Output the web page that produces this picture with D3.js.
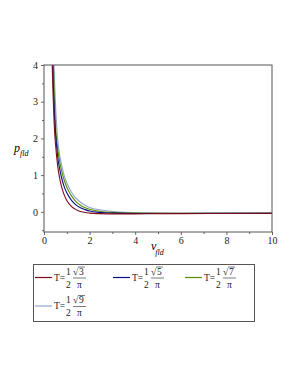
<!DOCTYPE html>
<html lang="en">
<head>
  <script src="https://d3js.org/d3.v7.min.js"></script>
  <style>
    body {
      margin: 0;
      background: white;
    }
  </style>
</head>
<body>
<div id="chart"></div>
<script>
  // values
  var vRed   = [0.34, 0.36, 0.4, 0.45, 0.5, 0.6, 0.7, 0.8, 0.9, 1.0, 1.2, 1.4, 1.6, 1.8, 2.0, 2.5, 3, 4, 5, 6, 8, 10];
  var pRed   = [4.5, 4.0, 3.16, 2.35, 1.88, 1.25, 0.87, 0.62, 0.44, 0.31, 0.15, 0.06, 0.01, -0.02, -0.035, -0.05, -0.055, -0.055, -0.05, -0.048, -0.045, -0.042];
  var vBlue  = [0.36, 0.38, 0.4, 0.45, 0.5, 0.6, 0.7, 0.8, 0.9, 1.0, 1.2, 1.4, 1.6, 1.8, 2.0, 2.5, 3, 4, 5, 6, 8, 10];
  var pBlue  = [4.5, 4.0, 3.6, 2.75, 2.2, 1.5, 1.13, 0.86, 0.66, 0.52, 0.32, 0.19, 0.11, 0.06, 0.02, -0.02, -0.035, -0.045, -0.045, -0.045, -0.043, -0.04];
  var vGreen = [0.39, 0.41, 0.45, 0.5, 0.6, 0.7, 0.8, 0.9, 1.0, 1.2, 1.4, 1.6, 1.8, 2.0, 2.5, 3, 4, 5, 6, 8, 10];
  var pGreen = [4.5, 4.0, 3.2, 2.4, 1.72, 1.33, 1.05, 0.84, 0.67, 0.44, 0.28, 0.18, 0.11, 0.07, 0.01, -0.015, -0.035, -0.04, -0.04, -0.04, -0.038];
  var vLight = [0.42, 0.44, 0.5, 0.6, 0.7, 0.8, 0.9, 1.0, 1.2, 1.4, 1.6, 1.8, 2.0, 2.5, 3, 4, 5, 6, 8, 10];
  var pLight = [4.5, 4.0, 3.0, 1.98, 1.5, 1.2, 0.96, 0.79, 0.54, 0.37, 0.26, 0.18, 0.12, 0.05, 0.01, -0.02, -0.03, -0.035, -0.036, -0.036];

  var seriesRoots = ["3", "5", "7", "9"];
  var seriesColors = ["#7d0a1c", "#06107f", "#5b8a00", "#8fa3c8"];
  var xTicks = [0, 2, 4, 6, 8, 10];
  var yTicks = [0, 1, 2, 3, 4];

  var series = [
    {root: seriesRoots[0], color: seriesColors[0], v: vRed, p: pRed},
    {root: seriesRoots[1], color: seriesColors[1], v: vBlue, p: pBlue},
    {root: seriesRoots[2], color: seriesColors[2], v: vGreen, p: pGreen},
    {root: seriesRoots[3], color: seriesColors[3], v: vLight, p: pLight}
  ];

  var serif = "Liberation Serif, DejaVu Serif, serif";

  var margin = {top: 65, left: 44},
      width = 228,
      height = 167;

  var svg = d3.select("#chart").append("svg")
          .attr("width", 298)
          .attr("height", 385);

  var g = svg.append("g")
          .attr("transform", "translate(" + margin.left + "," + margin.top + ")");

  var x = d3.scaleLinear().domain([0, 10]).range([0, width]);
  var y = d3.scaleLinear().domain([-0.55, 4]).range([height, 0]);

  g.append("defs").append("clipPath")
          .attr("id", "clip")
          .append("rect")
          .attr("width", width)
          .attr("height", height);

  function styleAxis(a) {
    a.select(".domain").remove();
    a.selectAll("line").attr("stroke", "#666");
    a.attr("font-family", null).attr("font-size", null);
    a.selectAll("text").attr("fill", "#222").style("font-family", serif).style("font-size", "10px");
  }

  // minor ticks
  g.append("g")
          .attr("transform", "translate(0," + height + ")")
          .call(d3.axisBottom(x).tickValues([1, 3, 5, 7, 9]).tickSize(2).tickFormat(""))
          .call(styleAxis);
  g.append("g")
          .call(d3.axisLeft(y).tickValues([-0.5, 0.5, 1.5, 2.5, 3.5]).tickSize(2).tickFormat(""))
          .call(styleAxis);

  g.append("g")
          .attr("transform", "translate(0," + height + ")")
          .call(d3.axisBottom(x).tickValues(xTicks).tickSize(3).tickPadding(2).tickFormat(d3.format("d")))
          .call(styleAxis);

  g.append("g")
          .call(d3.axisLeft(y).tickValues(yTicks).tickSize(3).tickPadding(3).tickFormat(d3.format("d")))
          .call(styleAxis);

  var line = d3.line()
          .x(function(d) { return x(d[0]); })
          .y(function(d) { return y(d[1]); })
          .curve(d3.curveMonotoneX);

  var plot = g.append("g").attr("clip-path", "url(#clip)");
  series.slice().reverse().forEach(function(s) {
    plot.append("path")
            .datum(d3.zip(s.v, s.p))
            .attr("fill", "none")
            .attr("stroke", s.color)
            .attr("stroke-width", 1.1)
            .attr("d", line);
  });

  g.append("rect")
          .attr("width", width)
          .attr("height", height)
          .attr("fill", "none")
          .attr("stroke", "#555")
          .attr("stroke-width", 1);

  // axis labels
  var yl = svg.append("text")
          .attr("x", 14)
          .attr("y", 152)
          .style("font-family", serif)
          .style("font-style", "italic")
          .style("font-size", "12px");
  yl.append("tspan").text("p");
  yl.append("tspan").attr("dy", 4).style("font-size", "8px").text("fld");

  var xl = svg.append("text")
          .attr("x", 151)
          .attr("y", 250)
          .style("font-family", serif)
          .style("font-style", "italic")
          .style("font-size", "12px");
  xl.append("tspan").text("v");
  xl.append("tspan").attr("dy", 5).attr("dx", -1).style("font-size", "8px").text("fld");

  // legend
  var legend = svg.append("g")
          .style("font-family", serif)
          .style("font-size", "9.5px")
          .attr("fill", "#222");
  legend.append("rect")
          .attr("x", 33.5)
          .attr("y", 264.5)
          .attr("width", 221)
          .attr("height", 57)
          .attr("fill", "white")
          .attr("stroke", "#555");

  var legendPos = [[35, 277.5], [113, 277.5], [185, 277.5], [35, 306]];
  series.forEach(function(s, i) {
    var item = legend.append("g")
            .attr("transform", "translate(" + legendPos[i][0] + "," + legendPos[i][1] + ")");
    item.append("line")
            .attr("x1", 0).attr("x2", 17)
            .attr("stroke", s.color)
            .attr("stroke-width", 1.2);
    item.append("text").attr("x", 19).attr("y", 3).text("T=");
    item.append("text").attr("x", 31).attr("y", -3).text("1");
    item.append("text").attr("x", 31).attr("y", 10).text("2");
    // sqrt(n) / pi
    item.append("text").attr("x", 38).attr("y", -3).text("\u221A");
    item.append("line")
            .attr("x1", 43).attr("x2", 50)
            .attr("y1", -10.5).attr("y2", -10.5)
            .attr("stroke", "#222").attr("stroke-width", 0.6);
    item.append("text").attr("x", 44).attr("y", -3).text(s.root);
    item.append("line")
            .attr("x1", 38).attr("x2", 51)
            .attr("y1", 0.5).attr("y2", 0.5)
            .attr("stroke", "#222").attr("stroke-width", 0.6);
    item.append("text").attr("x", 42).attr("y", 10).text("\u03C0");
  });
</script>
</body>
</html>
